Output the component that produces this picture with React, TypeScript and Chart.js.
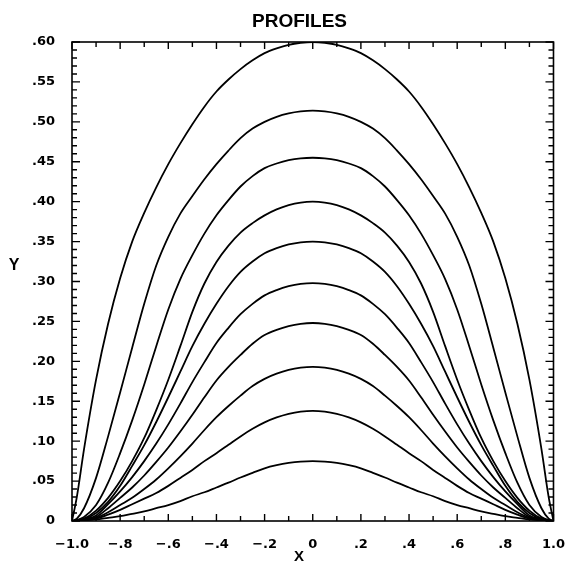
import React, { useEffect, useRef } from 'react';
import { Chart, registerables } from 'chart.js';

Chart.register(...registerables);

// Sample positions along X shared by every profile
const X_POSITIONS = [-1, -0.98, -0.95, -0.9, -0.85, -0.8, -0.75, -0.7, -0.65, -0.6, -0.55, -0.5, -0.45, -0.4, -0.35, -0.3, -0.25, -0.2, -0.15, -0.1, -0.05, 0, 0.05, 0.1, 0.15, 0.2, 0.25, 0.3, 0.35, 0.4, 0.45, 0.5, 0.55, 0.6, 0.65, 0.7, 0.75, 0.8, 0.85, 0.9, 0.95, 0.98, 1];

// Profile heights (Y) at each X position, tallest first
const PROFILE_1 = [0, 0.030, 0.090, 0.177, 0.247, 0.304, 0.350, 0.386, 0.418, 0.447, 0.473, 0.497, 0.519, 0.538, 0.553, 0.566, 0.577, 0.586, 0.592, 0.5965, 0.599, 0.600, 0.599, 0.5965, 0.592, 0.586, 0.577, 0.566, 0.553, 0.538, 0.519, 0.497, 0.473, 0.447, 0.418, 0.386, 0.350, 0.304, 0.247, 0.177, 0.090, 0.030, 0];
const PROFILE_2 = [0, 0.003, 0.016, 0.054, 0.106, 0.161, 0.217, 0.272, 0.320, 0.356, 0.385, 0.407, 0.428, 0.447, 0.464, 0.4795, 0.4915, 0.500, 0.5063, 0.5105, 0.513, 0.514, 0.513, 0.5105, 0.5063, 0.500, 0.4915, 0.4795, 0.464, 0.447, 0.428, 0.407, 0.385, 0.356, 0.320, 0.272, 0.217, 0.161, 0.106, 0.054, 0.016, 0.003, 0];
const PROFILE_3 = [0, 0.001, 0.005, 0.020, 0.048, 0.085, 0.126, 0.171, 0.219, 0.265, 0.303, 0.333, 0.360, 0.383, 0.402, 0.419, 0.432, 0.442, 0.4478, 0.452, 0.4543, 0.455, 0.4543, 0.452, 0.4478, 0.442, 0.432, 0.419, 0.402, 0.383, 0.360, 0.333, 0.303, 0.265, 0.219, 0.171, 0.126, 0.085, 0.048, 0.020, 0.005, 0.001, 0];
const PROFILE_4 = [0, 0.001, 0.003, 0.013, 0.029, 0.050, 0.075, 0.104, 0.139, 0.177, 0.219, 0.262, 0.2975, 0.3245, 0.345, 0.3613, 0.3731, 0.3828, 0.3903, 0.3957, 0.3989, 0.400, 0.3989, 0.3957, 0.3903, 0.3828, 0.3731, 0.3613, 0.345, 0.3245, 0.2975, 0.262, 0.219, 0.177, 0.139, 0.104, 0.075, 0.050, 0.029, 0.013, 0.003, 0.001, 0];
const PROFILE_5 = [0, 0, 0.002, 0.010, 0.024, 0.044, 0.069, 0.095, 0.124, 0.155, 0.187, 0.219, 0.247, 0.272, 0.294, 0.312, 0.325, 0.3353, 0.3418, 0.3464, 0.3491, 0.350, 0.3491, 0.3464, 0.3418, 0.3353, 0.325, 0.312, 0.294, 0.272, 0.247, 0.219, 0.187, 0.155, 0.124, 0.095, 0.069, 0.044, 0.024, 0.010, 0.002, 0, 0];
const PROFILE_6 = [0, 0, 0.002, 0.007, 0.021, 0.037, 0.055, 0.075, 0.097, 0.121, 0.147, 0.174, 0.199, 0.223, 0.242, 0.259, 0.272, 0.2826, 0.2893, 0.2941, 0.297, 0.298, 0.297, 0.2941, 0.2893, 0.2826, 0.272, 0.259, 0.242, 0.223, 0.199, 0.174, 0.147, 0.121, 0.097, 0.075, 0.055, 0.037, 0.021, 0.007, 0.002, 0, 0];
const PROFILE_7 = [0, 0, 0.001, 0.005, 0.016, 0.029, 0.042, 0.057, 0.074, 0.092, 0.112, 0.133, 0.155, 0.176, 0.193, 0.208, 0.222, 0.233, 0.2395, 0.2442, 0.247, 0.248, 0.247, 0.2442, 0.2395, 0.233, 0.222, 0.208, 0.193, 0.176, 0.155, 0.133, 0.112, 0.092, 0.074, 0.057, 0.042, 0.029, 0.016, 0.005, 0.001, 0, 0];
const PROFILE_8 = [0, 0, 0.001, 0.004, 0.011, 0.020, 0.029, 0.040, 0.052, 0.066, 0.081, 0.097, 0.114, 0.130, 0.144, 0.157, 0.169, 0.178, 0.1845, 0.1892, 0.192, 0.193, 0.192, 0.1892, 0.1845, 0.178, 0.169, 0.157, 0.144, 0.130, 0.114, 0.097, 0.081, 0.066, 0.052, 0.040, 0.029, 0.020, 0.011, 0.004, 0.001, 0, 0];
const PROFILE_9 = [0, 0, 0.001, 0.003, 0.008, 0.014, 0.021, 0.028, 0.035, 0.044, 0.054, 0.064, 0.075, 0.085, 0.0955, 0.106, 0.1155, 0.1235, 0.1297, 0.1342, 0.137, 0.138, 0.137, 0.1342, 0.1297, 0.1235, 0.1155, 0.106, 0.0955, 0.085, 0.075, 0.064, 0.054, 0.044, 0.035, 0.028, 0.021, 0.014, 0.008, 0.003, 0.001, 0, 0];
const PROFILE_10 = [0, 0, 0.001, 0.002, 0.004, 0.006, 0.009, 0.012, 0.016, 0.020, 0.025, 0.031, 0.036, 0.042, 0.048, 0.0545, 0.0603, 0.066, 0.0699, 0.0727, 0.0744, 0.075, 0.0744, 0.0727, 0.0699, 0.066, 0.0603, 0.0545, 0.048, 0.042, 0.036, 0.031, 0.025, 0.020, 0.016, 0.012, 0.009, 0.006, 0.004, 0.002, 0.001, 0, 0];

const PROFILES = [PROFILE_1, PROFILE_2, PROFILE_3, PROFILE_4, PROFILE_5, PROFILE_6, PROFILE_7, PROFILE_8, PROFILE_9, PROFILE_10];

// Axis ranges and tick spacing
const X_MIN = -1;
const X_MAX = 1;
const X_LABEL_STEP = 0.2;
const X_MARK_STEP = 0.1;
const Y_MIN = 0;
const Y_MAX = 0.6;
const Y_LABEL_STEP = 0.05;
const Y_MARK_STEP = 0.01;

const TITLE = 'PROFILES';
const X_TITLE = 'X';
const Y_TITLE = 'Y';

const TICK_FONT = { family: '"DejaVu Sans", sans-serif', weight: 'bold' as const, size: 13 };

function formatY(v: number): string {
  if (Math.abs(v) < 1e-9) return '0';
  return v.toFixed(2).replace(/^0\./, '.');
}

function formatX(v: number): string {
  if (Math.abs(v) < 1e-9) return '0';
  const sign = v < 0 ? '\u2212' : '';
  const a = Math.abs(v);
  const body = a >= 1 - 1e-9 ? a.toFixed(1) : a.toFixed(1).replace(/^0\./, '.');
  return sign + body;
}

// Closed frame with inward tick marks on all four sides
const frameTicks = {
  id: 'frameTicks',
  afterDatasetsDraw(chart: any) {
    const { ctx, chartArea: a, scales } = chart;
    const xs = scales.x;
    const ys = scales.y;
    ctx.save();
    ctx.strokeStyle = '#000';
    ctx.lineWidth = 1.6;
    ctx.lineCap = 'butt';
    ctx.strokeRect(a.left, a.top, a.right - a.left, a.bottom - a.top);
    ctx.lineWidth = 1.4;
    ctx.beginPath();
    const yCount = Math.round((Y_MAX - Y_MIN) / Y_MARK_STEP);
    const yEvery = Math.round(Y_LABEL_STEP / Y_MARK_STEP);
    for (let i = 0; i <= yCount; i++) {
      const py = ys.getPixelForValue(Y_MIN + i * Y_MARK_STEP);
      const len = i % yEvery === 0 ? 8 : 5;
      ctx.moveTo(a.left, py);
      ctx.lineTo(a.left + len, py);
      ctx.moveTo(a.right, py);
      ctx.lineTo(a.right - len, py);
    }
    const xCount = Math.round((X_MAX - X_MIN) / X_MARK_STEP);
    const xEvery = Math.round(X_LABEL_STEP / X_MARK_STEP);
    for (let i = 0; i <= xCount; i++) {
      const px = xs.getPixelForValue(X_MIN + i * X_MARK_STEP);
      const len = i % xEvery === 0 ? 7 : 5;
      ctx.moveTo(px, a.bottom);
      ctx.lineTo(px, a.bottom - len);
      ctx.moveTo(px, a.top);
      ctx.lineTo(px, a.top + len);
    }
    ctx.stroke();
    ctx.restore();
  },
};

// Chart title and the two axis letters
const captions = {
  id: 'captions',
  afterDraw(chart: any) {
    const { ctx } = chart;
    ctx.save();
    ctx.fillStyle = '#000';
    ctx.textAlign = 'center';
    ctx.textBaseline = 'middle';
    ctx.font = 'bold 19px "Liberation Sans", Arial, sans-serif';
    ctx.fillText(TITLE, 299.5, 22);
    ctx.font = 'bold 16px "Liberation Sans", Arial, sans-serif';
    ctx.fillText(Y_TITLE, 14, 266);
    ctx.font = 'bold 15px "Liberation Sans", Arial, sans-serif';
    ctx.fillText(X_TITLE, 299, 557);
    ctx.restore();
  },
};

export default function App() {
  const canvasRef = useRef<HTMLCanvasElement | null>(null);

  useEffect(() => {
    const canvas = canvasRef.current;
    if (!canvas) return;
    const datasets = PROFILES.map((profile, k) => ({
      label: `profile ${k + 1}`,
      data: X_POSITIONS.map((x, i) => ({ x, y: profile[i] })),
      borderColor: '#000',
      borderWidth: 1.8,
      pointRadius: 0,
      fill: false,
      cubicInterpolationMode: 'monotone' as const,
    }));
    const chart = new Chart(canvas, {
      type: 'line',
      data: { datasets },
      options: {
        animation: false,
        responsive: false,
        devicePixelRatio: 1,
        layout: { padding: { top: 42, right: 15, left: 0, bottom: 0 } },
        plugins: {
          legend: { display: false },
          tooltip: { enabled: false },
          title: { display: false },
        },
        scales: {
          x: {
            type: 'linear',
            min: X_MIN,
            max: X_MAX,
            grid: { display: false },
            border: { display: false },
            ticks: {
              stepSize: X_LABEL_STEP,
              padding: 8,
              color: '#000',
              font: TICK_FONT,
              maxRotation: 0,
              autoSkip: false,
              callback: (v: any) => formatX(Number(v)),
            },
            afterFit: (s: any) => {
              s.height = 42;
            },
          },
          y: {
            type: 'linear',
            min: Y_MIN,
            max: Y_MAX,
            grid: { display: false },
            border: { display: false },
            ticks: {
              stepSize: Y_LABEL_STEP,
              padding: 9,
              color: '#000',
              font: TICK_FONT,
              autoSkip: false,
              callback: (v: any) => formatY(Number(v)),
            },
            afterFit: (s: any) => {
              s.width = 72;
            },
          },
        },
      },
      plugins: [frameTicks, captions],
    });
    return () => chart.destroy();
  }, []);

  return (
    <div style={{ position: 'absolute', left: 0, top: 0, width: 573, height: 563, background: '#fff' }}>
      <canvas ref={canvasRef} width={573} height={563} style={{ display: 'block' }} />
    </div>
  );
}
